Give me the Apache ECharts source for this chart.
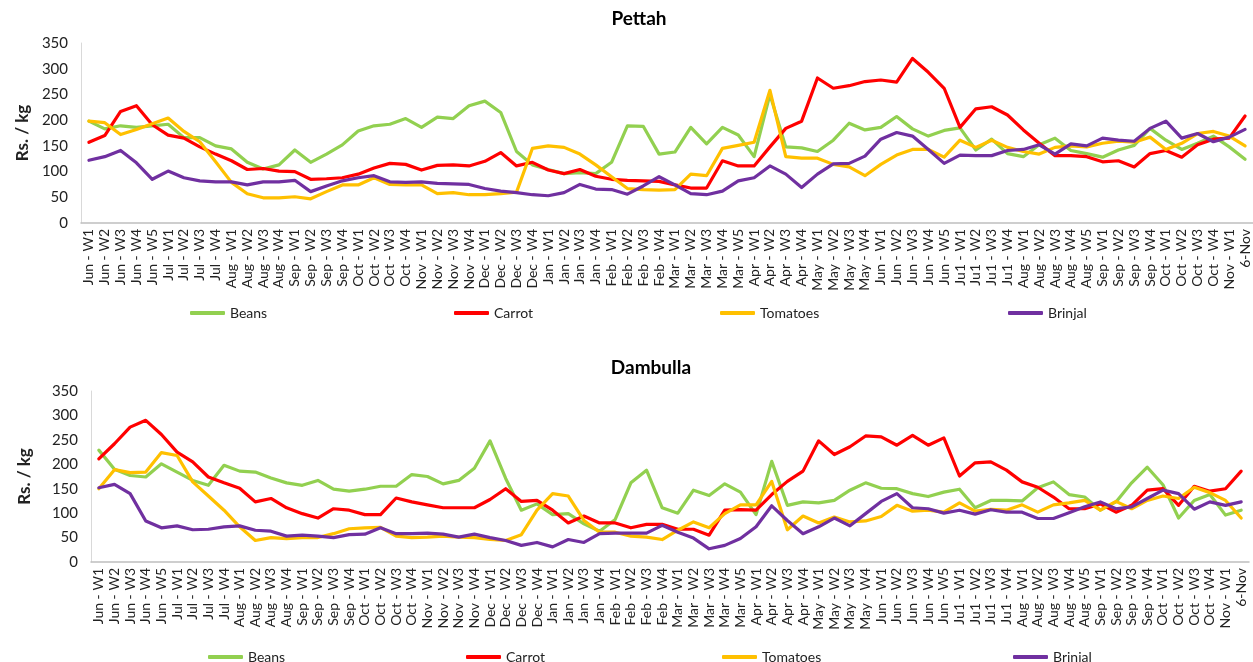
<!DOCTYPE html>
<html><head><meta charset="utf-8">
<script src="https://cdn.jsdelivr.net/npm/echarts@6/dist/echarts.min.js"></script>
<style>html,body{margin:0;padding:0;background:#fff}#c{width:1253px;height:662px}</style>
</head><body><div id="c"></div>
<script>
const categories = ["Jun - W1","Jun - W2","Jun - W3","Jun - W4","Jun - W5","Jul - W1","Jul - W2","Jul - W3","Jul - W4","Aug - W1","Aug - W2","Aug - W3","Aug - W4","Sep - W1","Sep - W2","Sep - W3","Sep - W4","Oct - W1","Oct - W2","Oct - W3","Oct - W4","Nov - W1","Nov - W2","Nov - W3","Nov - W4","Dec - W1","Dec - W2","Dec - W3","Dec - W4","Jan - W1","Jan - W2","Jan - W3","Jan - W4","Feb - W1","Feb - W2","Feb - W3","Feb - W4","Mar - W1","Mar - W2","Mar - W3","Mar - W4","Mar - W5","Apr - W1","Apr - W2","Apr - W3","Apr - W4","May - W1","May - W2","May - W3","May - W4","Jun - W1","Jun - W2","Jun - W3","Jun - W4","Jun - W5","Ju1 - W1","Ju1 - W2","Ju1 - W3","Ju1 - W4","Aug - W1","Aug - W2","Aug - W3","Aug - W4","Aug - W5","Sep - W1","Sep - W2","Sep - W3","Sep - W4","Oct - W1","Oct - W2","Oct - W3","Oct - W4","Nov - W1","6-Nov"];
const seriesNames = ["Beans","Carrot","Tomatoes","Brinjal"];
const yTicks = [0,50,100,150,200,250,300,350];

const pettahBeans = [198,183,189,186,189,192,166,166,150,144,118,105,113,142,118,134,152,179,189,192,203,186,206,203,228,237,215,139,113,104,96,98,96,118,189,188,134,138,186,154,186,171,129,250,148,146,139,161,194,181,186,207,183,169,180,185,142,163,135,129,152,165,141,135,128,142,151,184,161,143,155,169,148,124];
const pettahCarrot = [157,170,217,228,191,171,165,148,134,121,104,106,101,100,85,86,88,95,107,116,114,103,112,113,111,120,137,111,118,103,96,104,91,85,83,82,81,74,68,68,121,111,111,148,184,198,282,262,267,275,278,274,320,293,262,186,222,226,210,181,155,131,131,129,119,121,109,135,141,128,152,163,165,208];
const pettahTomatoes = [198,195,172,182,193,204,178,158,119,79,57,49,49,51,47,61,74,74,88,75,74,74,57,59,55,55,57,60,145,150,147,134,113,90,67,65,64,65,95,92,145,151,157,258,129,126,126,114,109,92,114,132,143,143,128,161,147,161,147,139,134,147,150,148,155,159,157,167,143,155,174,178,169,150];
const pettahBrinjal = [122,129,141,117,85,101,88,82,80,80,74,80,80,83,61,72,82,88,92,80,79,80,77,76,75,67,62,59,55,53,59,75,66,65,56,72,90,74,57,55,62,82,88,111,95,69,95,115,116,130,163,176,169,143,116,132,131,131,141,143,152,134,154,150,165,161,159,184,198,165,174,158,167,182];

const dambullaBeans = [229,190,177,174,201,184,167,157,198,186,184,172,162,157,167,149,145,149,155,155,179,175,160,167,192,248,171,106,119,97,99,78,63,87,162,188,111,100,147,136,160,143,97,206,116,123,121,126,147,162,151,150,140,134,143,149,111,126,126,125,152,164,138,133,106,123,162,194,158,90,126,138,96,106];
const dambullaCarrot = [211,242,276,290,261,225,205,174,162,151,123,130,111,99,90,109,106,97,97,131,123,117,111,111,111,128,150,124,126,106,80,94,80,80,70,77,77,67,67,55,106,107,106,138,165,186,248,220,236,258,256,239,259,239,254,176,203,205,188,164,153,133,109,109,119,102,116,147,150,116,155,145,150,186];
const dambullaTomatoes = [150,189,183,184,224,218,164,135,106,72,44,50,48,50,50,58,68,70,71,53,50,51,53,51,50,46,44,56,106,140,135,85,61,61,53,51,46,65,82,70,99,117,117,165,66,94,80,92,82,84,93,116,104,106,102,121,104,108,106,117,102,117,121,126,106,124,109,126,135,130,153,142,126,90];
const dambullaBrinjal = [152,159,140,84,70,74,66,67,72,74,65,63,53,55,53,50,56,57,70,58,58,59,57,51,57,50,44,34,40,31,46,40,58,59,59,59,75,61,49,27,34,48,72,115,85,58,72,90,74,99,124,140,111,109,100,106,98,107,102,102,89,89,101,113,123,109,113,130,147,140,108,123,116,123];

const colors = ["#92D050","#FF0000","#FFC000","#7030A0"];
const FONT = "Lato, 'Open Sans', sans-serif";

const chart = echarts.init(document.getElementById('c'), null, {renderer:'canvas'});

function xAxis(gridIndex){
  return {type:'category', gridIndex, data:categories, boundaryGap:true,
    axisLine:{show:true, lineStyle:{color:'#BFBFBF', width:1.5}},
    axisTick:{show:false},
    axisLabel:{interval:0, rotate:90, fontSize:14, color:'#222', fontFamily:FONT, margin:6}};
}
function yAxis(gridIndex, gap){
  return {type:'value', gridIndex, min:yTicks[0], max:yTicks[yTicks.length-1], interval:50,
    name:'Rs. / kg', nameLocation:'middle', nameGap:gap,
    nameTextStyle:{fontSize:17, fontWeight:'bold', color:'#222', fontFamily:FONT},
    axisLine:{show:true, lineStyle:{color:'#D9D9D9', width:1}},
    axisTick:{show:false}, splitLine:{show:false},
    axisLabel:{fontSize:15, color:'#222', fontFamily:FONT, margin:13}};
}
function mk(name, data, idx, c){
  return {name, type:'line', xAxisIndex:idx, yAxisIndex:idx, data, showSymbol:false, symbol:'none',
    lineStyle:{color:c, width:3.2, cap:'round', join:'round'}, itemStyle:{color:c}, animation:false};
}
function legendsAt(xs, top){
  return seriesNames.map((n,i)=>({data:[n], left:xs[i], top, padding:0, icon:'roundRect', itemWidth:35, itemHeight:4, itemGap:4,
    textStyle:{fontSize:14, color:'#222', fontFamily:FONT}, selectedMode:false}));
}

chart.setOption({
  animation:false,
  color:colors,
  title:[
    {text:'Pettah', left:634, top:4, textAlign:'center', textStyle:{fontSize:19, fontWeight:'bold', color:'#000', fontFamily:FONT}},
    {text:'Dambulla', left:646, top:353, textAlign:'center', textStyle:{fontSize:19, fontWeight:'bold', color:'#000', fontFamily:FONT}}
  ],
  legend:[...legendsAt([190,454,720,1008],306), ...legendsAt([208,466,722,1013],650)],
  grid:[
    {left:81, right:0, top:43, height:180},
    {left:91, right:4, top:391, height:171}
  ],
  xAxis:[xAxis(0), xAxis(1)],
  yAxis:[yAxis(0,48), yAxis(1,58)],
  series:[
    mk('Beans', pettahBeans, 0, colors[0]),
    mk('Carrot', pettahCarrot, 0, colors[1]),
    mk('Tomatoes', pettahTomatoes, 0, colors[2]),
    mk('Brinjal', pettahBrinjal, 0, colors[3]),
    mk('Beans', dambullaBeans, 1, colors[0]),
    mk('Carrot', dambullaCarrot, 1, colors[1]),
    mk('Tomatoes', dambullaTomatoes, 1, colors[2]),
    mk('Brinjal', dambullaBrinjal, 1, colors[3])
  ]
});
</script></body></html>
